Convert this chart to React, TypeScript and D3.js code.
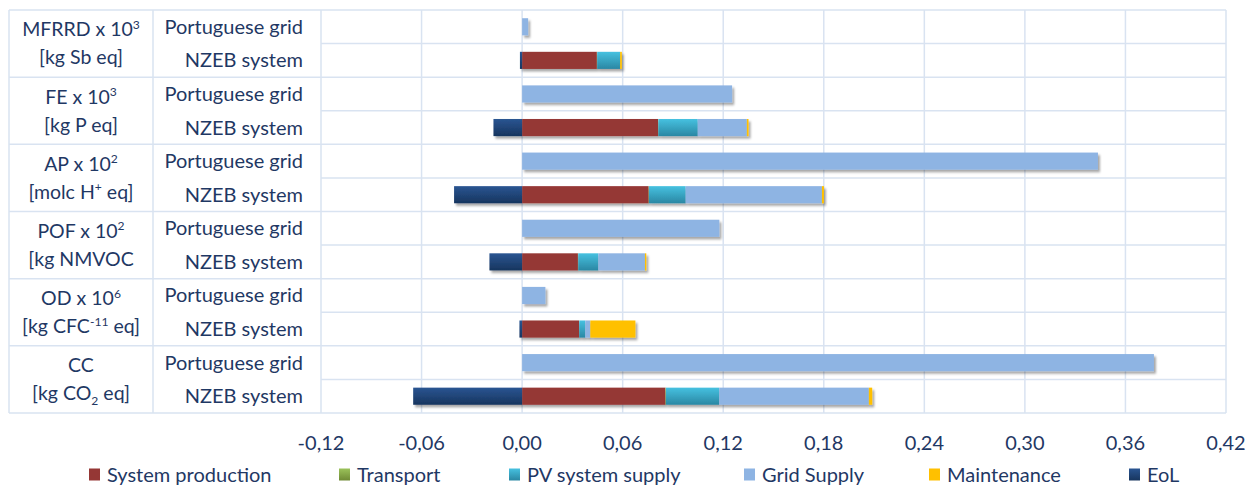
import React from "react";
import * as d3 from "d3";

// ---------- data ----------
const impactNames = ["MFRRD", "FE", "AP", "POF", "OD", "CC"];
const impactExp = ["3", "3", "2", "2", "6", ""];
const scenarios = ["Portuguese grid", "NZEB system"];
const seriesNames = ["System production", "Transport", "PV system supply", "Grid Supply", "Maintenance", "EoL"];

// rows top -> bottom: each impact: Portuguese grid, NZEB system
const systemProduction = [0, 0.0446, 0, 0.0811, 0, 0.0755, 0, 0.0333, 0, 0.034, 0, 0.0855];
const transport = [0, 0.0002, 0, 0.0002, 0, 0.0002, 0, 0.0002, 0, 0.0001, 0, 0.0003];
const pvSupply = [0, 0.0137, 0, 0.0235, 0, 0.0219, 0, 0.012, 0, 0.0036, 0, 0.0318];
const gridSupply = [0.0036, 0, 0.1253, 0.0293, 0.3436, 0.0813, 0.1177, 0.0278, 0.0139, 0.003, 0.377, 0.0893];
const maintenance = [0, 0.001, 0, 0.001, 0, 0.0012, 0, 0.0008, 0, 0.0269, 0, 0.002];
const eol = [0, -0.0013, 0, -0.0171, 0, -0.0406, 0, -0.0195, 0, -0.0016, 0, -0.065];

const tickValues = [-0.12, -0.06, 0, 0.06, 0.12, 0.18, 0.24, 0.3, 0.36, 0.42];

type Part = { t: string; s?: "sup" | "sub" };
const unitLabels: Part[][] = [
  [{ t: "[kg Sb eq]" }],
  [{ t: "[kg P eq]" }],
  [{ t: "[molc H" }, { t: "+", s: "sup" }, { t: " eq]" }],
  [{ t: "[kg NMVOC" }],
  [{ t: "[kg CFC" }, { t: "-11", s: "sup" }, { t: " eq]" }],
  [{ t: "[kg CO" }, { t: "2", s: "sub" }, { t: " eq]" }],
];

// ---------- layout ----------
const W = 1260, H = 487;
const plotL = 321, plotR = 1226, plotT = 10, plotB = 413;
const tableL = 9, col2L = 153;
const textColor = "#1f3864";
const gridColor = "#d9e3f1";
const FONT = "Lato, 'Open Sans', sans-serif";
const fills = ["#953735", "url(#gTransport)", "url(#gPV)", "#8eb4e3", "#ffc000", "url(#gEoL)"];
const legendTextX = [107, 357, 527, 762, 947, 1147];

const locale = d3.formatLocale({ decimal: ",", thousands: ".", grouping: [3], currency: ["", ""], minus: "-" });
const fmt = locale.format(".2f");

export default function App() {
  const rows = systemProduction.map((_, i) => ({
    id: i,
    [seriesNames[0]]: systemProduction[i],
    [seriesNames[1]]: transport[i],
    [seriesNames[2]]: pvSupply[i],
    [seriesNames[3]]: gridSupply[i],
    [seriesNames[4]]: maintenance[i],
    [seriesNames[5]]: eol[i],
  }));
  const stack = d3.stack<any>().keys(seriesNames).offset(d3.stackOffsetDiverging);
  const stacked = stack(rows as any);

  const x = d3.scaleLinear().domain([-0.12, 0.42]).range([plotL, plotR]);
  const y = d3
    .scaleBand<number>()
    .domain(rows.map((r) => r.id))
    .range([plotT, plotB])
    .paddingInner(0.49)
    .paddingOuter(0.245);
  const step = (plotB - plotT) / rows.length;
  const groupH = step * 2;
  const fsCat = 20;
  const fsGrp = 19.5;

  return (
    <svg width={W} height={H} style={{ position: "absolute", left: 0, top: 0 }} fontFamily={FONT}>
      <defs>
        <linearGradient id="gPV" x1="0" y1="0" x2="0" y2="1">
          <stop offset="0" stopColor="#46c1e0" />
          <stop offset="1" stopColor="#2a87a3" />
        </linearGradient>
        <linearGradient id="gEoL" x1="0" y1="0" x2="0" y2="1">
          <stop offset="0" stopColor="#2a5592" />
          <stop offset="1" stopColor="#17355e" />
        </linearGradient>
        <linearGradient id="gTransport" x1="0" y1="0" x2="0" y2="1">
          <stop offset="0" stopColor="#9bc25a" />
          <stop offset="1" stopColor="#6f8a35" />
        </linearGradient>
        <filter id="shadow" x="-10%" y="-30%" width="120%" height="180%">
          <feDropShadow dx="2" dy="2.5" stdDeviation="1.2" floodColor="#000" floodOpacity="0.35" />
        </filter>
      </defs>
      <rect width={W} height={H} fill="#fff" />

      {/* vertical gridlines */}
      {tickValues.map((v) => (
        <line key={"v" + v} x1={x(v)} x2={x(v)} y1={plotT} y2={plotB} stroke={gridColor} strokeWidth={1.5} />
      ))}
      {/* horizontal gridlines in plot */}
      {d3.range(rows.length + 1).map((i) => (
        <line key={"h" + i} x1={plotL} x2={plotR} y1={plotT + i * step} y2={plotT + i * step} stroke={gridColor} strokeWidth={1.5} />
      ))}
      {/* table lines */}
      {d3.range(impactNames.length + 1).map((g) => (
        <line key={"t" + g} x1={tableL} x2={plotL} y1={plotT + g * groupH} y2={plotT + g * groupH} stroke={gridColor} strokeWidth={1.5} />
      ))}
      <line x1={tableL} x2={tableL} y1={plotT} y2={plotB} stroke={gridColor} strokeWidth={1.5} />
      <line x1={col2L} x2={col2L} y1={plotT} y2={plotB} stroke={gridColor} strokeWidth={1.5} />

      {/* bars */}
      <g filter="url(#shadow)">
        {stacked.map((s, si) => (
          <g key={s.key} fill={fills[si]}>
            {s.map((d, i) => {
              const w = Math.abs(x(d[1]) - x(d[0]));
              if (w <= 0) return null;
              return <rect key={i} x={x(Math.min(d[0], d[1]))} y={y(i)} width={w} height={y.bandwidth()} />;
            })}
          </g>
        ))}
      </g>

      {/* scenario labels */}
      {rows.map((r, i) => (
        <text key={"s" + i} x={303} y={(y(i) as number) + y.bandwidth() / 2} dy="0.35em" textAnchor="end" fontSize={fsCat} fill={textColor}>
          {scenarios[i % 2]}
        </text>
      ))}

      {/* impact labels */}
      {impactNames.map((n, g) => {
        const cy = plotT + g * groupH + groupH / 2;
        const cx = (tableL + col2L) / 2;
        const fs = fsGrp;
        return (
          <g key={n}>
            <text x={cx} y={cy - 14} dy="0.35em" textAnchor="middle" fontSize={fs} fill={textColor}>
              <tspan>{n + (impactExp[g] ? " x 10" : "")}</tspan>
              {impactExp[g] && (
                <tspan fontSize={fs * 0.62} dy={-fs * 0.38}>
                  {impactExp[g]}
                </tspan>
              )}
            </text>
            <text x={cx} y={cy + 14} dy="0.35em" textAnchor="middle" fontSize={fs} fill={textColor}>
              {unitLabels[g].map((p, i) => {
                const prev = unitLabels[g][i - 1];
                let dy: number | undefined;
                if (p.s === "sup") dy = -fs * 0.38;
                else if (p.s === "sub") dy = fs * 0.25;
                else if (prev && prev.s === "sup") dy = fs * 0.38;
                else if (prev && prev.s === "sub") dy = -fs * 0.25;
                return (
                  <tspan key={i} fontSize={p.s ? fs * 0.62 : fs} dy={dy}>
                    {p.t}
                  </tspan>
                );
              })}
            </text>
          </g>
        );
      })}

      {/* x tick labels */}
      {tickValues.map((v) => (
        <text key={"tl" + v} x={x(v)} y={443} dy="0.35em" textAnchor="middle" fontSize={20} fill={textColor}>
          {fmt(v)}
        </text>
      ))}

      {/* legend */}
      {seriesNames.map((n, i) => (
        <g key={n}>
          <rect x={legendTextX[i] - 18} y={468.5} width={11} height={12} fill={fills[i]} />
          <text x={legendTextX[i]} y={474.5} dy="0.35em" fontSize={20} fill={textColor}>
            {n}
          </text>
        </g>
      ))}
    </svg>
  );
}
